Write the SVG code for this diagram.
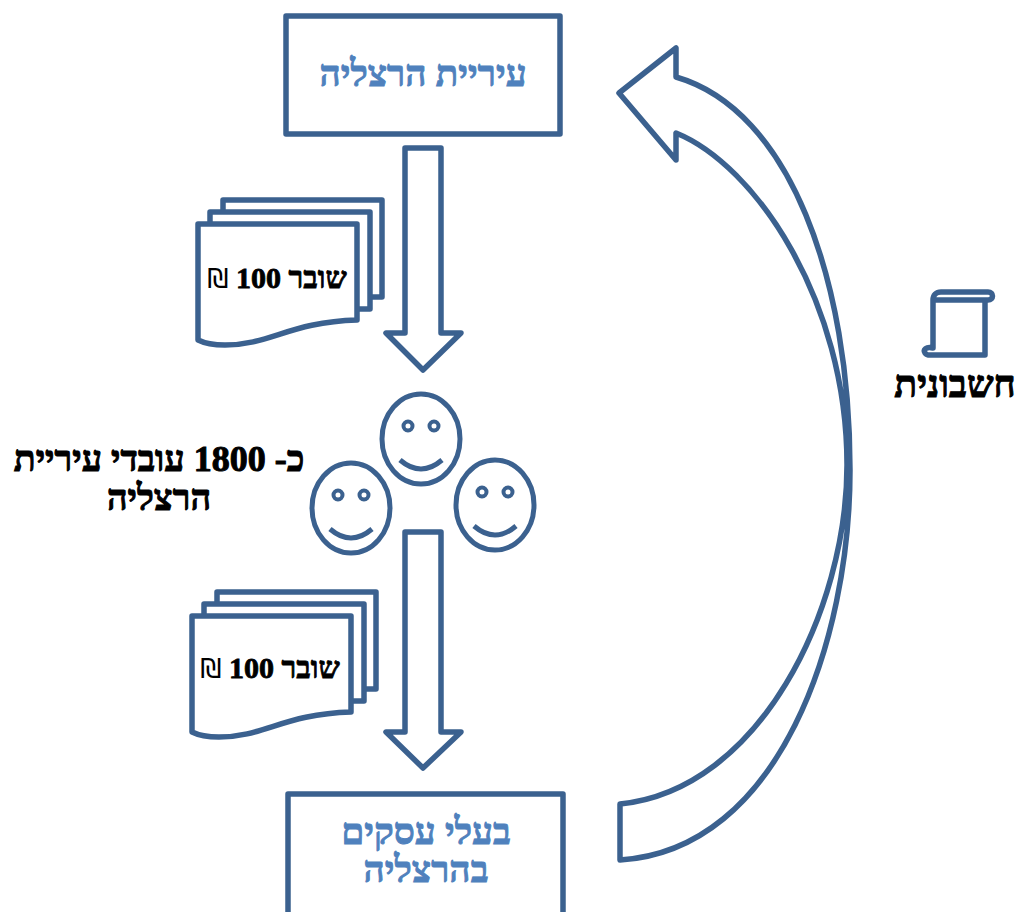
<svg xmlns="http://www.w3.org/2000/svg" width="1018" height="912" viewBox="0 0 1018 912">
<style>
.s{fill:#fff;stroke:#3B618F;stroke-width:5.5;stroke-linejoin:round;stroke-linecap:round}
.n{fill:none;stroke:#3B618F;stroke-width:5;stroke-linejoin:round;stroke-linecap:butt}
text{font-family:"Liberation Serif","Noto Sans",serif;font-weight:bold;text-anchor:middle;direction:rtl;paint-order:stroke}
.b{fill:#4F81BD;stroke:#4F81BD;stroke-width:.9px;font-size:37px}
.k{fill:#000;stroke:#000;stroke-width:1px;font-size:36px}
.v{fill:#000;stroke:#000;stroke-width:.8px;font-size:30px}
.c{font-family:"DejaVu Sans",sans-serif;font-weight:normal;font-size:27px;stroke-width:0}
</style>
<defs>
<g id="docs">
<path class="s" d="M223 200H382V297H223Z"/>
<path class="s" d="M210 212H370V309H210Z"/>
<path class="s" d="M198 224H357V320C290 322 270 345 225 345C212 345 204 343 198 340Z"/>
</g>
<g id="face">
<ellipse class="n" cx="0" cy="0" rx="39" ry="45"/>
<circle class="n" cx="-13" cy="-13" r="4.5" style="stroke-width:4"/>
<circle class="n" cx="13" cy="-13" r="4.5" style="stroke-width:4"/>
<path class="n" d="M-21 21Q0 39 21 21"/>
</g>
</defs>
<g id="connectors">
<path class="s" d="M405 148H441V333H461L423 370L386 333H405Z"/>
<path class="s" d="M405 532H441V732H461L423 768L386 732H405Z"/>
<path class="s" d="M620 804C760 790 847 610 847 465C847 300 755 165 676 133V160L619 93L676 48V77C790 110 850 280 850 470C850 640 780 850 620 860Z"/>
</g>
<g id="city">
<rect class="s" x="286" y="16" width="274" height="118"/>
<text class="b" x="423" y="86">עיריית הרצליה</text>
</g>
<g id="voucher1">
<use href="#docs"/>
<text class="v" x="277" y="288">שובר 100 <tspan class="c">₪</tspan></text>
</g>
<g id="employees">
<use href="#face" x="421" y="439"/>
<use href="#face" x="351" y="508"/>
<use href="#face" x="495" y="505"/>
<text class="k" x="159" y="471">כ- 1800 עובדי עיריית</text>
<text class="k" x="159" y="510">הרצליה</text>
</g>
<g id="voucher2">
<use href="#docs" x="-6" y="392"/>
<text class="v" x="270" y="678">שובר 100 <tspan class="c">₪</tspan></text>
</g>
<g id="business">
<rect class="s" x="288" y="794" width="275" height="122"/>
<text class="b" x="426" y="844">בעלי עסקים</text>
<text class="b" x="426" y="882">בהרצליה</text>
</g>
<g id="invoice">
<path class="s" d="M933 300C933 295 936 292 941 292H988C994 292 994 300 988 300H933V348C926 346 923 350 925 353C927 356 930 355 933 355H985V300"/>
<text class="k" x="955" y="397" style="font-size:37.5px">חשבונית</text>
</g>
</svg>
